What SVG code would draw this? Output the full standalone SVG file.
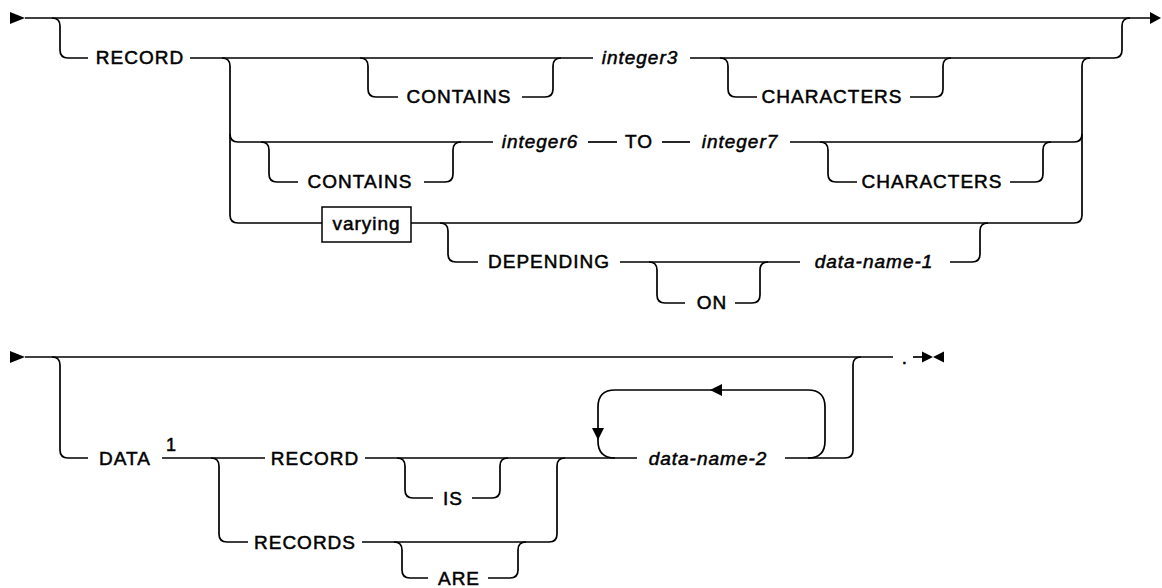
<svg xmlns="http://www.w3.org/2000/svg" width="1162" height="588" viewBox="0 0 1162 588">
<style>
.ln{fill:none;stroke:#000;stroke-width:1.7}
.ah{fill:#000;stroke:none}
.kw,.var,.sup{font-family:"Liberation Sans",Arial,sans-serif;font-size:19px;fill:#000;stroke:#000;stroke-width:0.5;text-anchor:middle;letter-spacing:1px}
.var{font-style:italic}
.sup{font-size:18px;letter-spacing:0}
.box{fill:#fff;stroke:#000;stroke-width:1.5}
</style>
<g id="connectors">
<path class="ln" d="M25 18 H1150"/>
<path class="ln" d="M52 18 Q60 18 60 26 V50 Q60 58 68 58 H88"/>
<path class="ln" d="M190 58 H593"/>
<path class="ln" d="M690 58 H1114 Q1122 58 1122 50 V26 Q1122 18 1130 18"/>
<path class="ln" d="M360 58 Q368 58 368 66 V89 Q368 97 376 97 H398"/>
<path class="ln" d="M522 97 H545 Q553 97 553 89 V66 Q553 58 561 58"/>
<path class="ln" d="M720 58 Q728 58 728 66 V89 Q728 97 736 97 H757"/>
<path class="ln" d="M910 97 H935 Q943 97 943 89 V66 Q943 58 951 58"/>
<path class="ln" d="M222 58 Q230 58 230 66 V215 Q230 223 238 223 H322"/>
<path class="ln" d="M230 134 Q230 142 238 142 H493"/>
<path class="ln" d="M261 142 Q269 142 269 150 V174 Q269 182 277 182 H298"/>
<path class="ln" d="M424 182 H445 Q453 182 453 174 V150 Q453 142 461 142"/>
<path class="ln" d="M588 142 H617"/>
<path class="ln" d="M662 142 H690"/>
<path class="ln" d="M790 142 H1074 Q1082 142 1082 134"/>
<path class="ln" d="M820 142 Q828 142 828 150 V174 Q828 182 836 182 H857"/>
<path class="ln" d="M1010 182 H1035 Q1043 182 1043 174 V150 Q1043 142 1051 142"/>
<path class="ln" d="M1082 215 V66 Q1082 58 1090 58"/>
<path class="ln" d="M411 223 H1074 Q1082 223 1082 215"/>
<path class="ln" d="M440 223 Q448 223 448 231 V254 Q448 262 456 262 H478"/>
<path class="ln" d="M620 262 H800"/>
<path class="ln" d="M649 262 Q657 262 657 270 V295 Q657 303 665 303 H685"/>
<path class="ln" d="M735 303 H752 Q760 303 760 295 V270 Q760 262 768 262"/>
<path class="ln" d="M950 262 H972 Q980 262 980 254 V231 Q980 223 988 223"/>
<polygon class="ah" points="10,12 25,18 10,24"/>
<polygon class="ah" points="1150,12 1161,18 1150,24"/>

<path class="ln" d="M25 357 H893"/>
<path class="ln" d="M52 357 Q60 357 60 365 V450 Q60 458 68 458 H88"/>
<path class="ln" d="M162 458 H265"/>
<path class="ln" d="M211 458 Q219 458 219 466 V534 Q219 542 227 542 H248"/>
<path class="ln" d="M365 458 H637"/>
<path class="ln" d="M397 458 Q405 458 405 466 V490 Q405 498 413 498 H433"/>
<path class="ln" d="M472 498 H492 Q500 498 500 490 V466 Q500 458 508 458"/>
<path class="ln" d="M362 542 H549 Q557 542 557 534 V466 Q557 458 565 458"/>
<path class="ln" d="M394 542 Q402 542 402 550 V570 Q402 578 410 578 H428"/>
<path class="ln" d="M488 578 H510 Q518 578 518 570 V550 Q518 542 526 542"/>
<path class="ln" d="M615 458 Q598 458 598 441 V407 Q598 390 615 390 H808 Q825 390 825 407 V441 Q825 458 808 458"/>
<path class="ln" d="M785 458 H845 Q853 458 853 450 V365 Q853 357 861 357"/>
<path class="ln" d="M913 357 H922"/>
<polygon class="ah" points="10,351 25,357 10,363"/>
<polygon class="ah" points="592,428 604,428 598,440"/>
<polygon class="ah" points="722,384 722,396 710,390"/>
<polygon class="ah" points="922,351.5 933,357 922,362.5"/>
<polygon class="ah" points="944,351.5 933,357 944,362.5"/>
</g>
<g id="n-record"><text class="kw" x="140" y="64">RECORD</text></g>
<g id="n-contains1"><text class="kw" x="459" y="103">CONTAINS</text></g>
<g id="n-integer3"><text class="var" x="640" y="64">integer3</text></g>
<g id="n-characters1"><text class="kw" x="832" y="103">CHARACTERS</text></g>
<g id="n-contains2"><text class="kw" x="360" y="188">CONTAINS</text></g>
<g id="n-integer6"><text class="var" x="540" y="148">integer6</text></g>
<g id="n-to"><text class="kw" x="639" y="148">TO</text></g>
<g id="n-integer7"><text class="var" x="740" y="148">integer7</text></g>
<g id="n-characters2"><text class="kw" x="932" y="188">CHARACTERS</text></g>
<g id="n-varying"><rect class="box" x="322" y="207" width="89" height="35"/><text class="kw" x="366.5" y="230">varying</text></g>
<g id="n-depending"><text class="kw" x="549" y="268">DEPENDING</text></g>
<g id="n-on"><text class="kw" x="712" y="309">ON</text></g>
<g id="n-dataname1"><text class="var" x="874" y="268">data-name-1</text></g>
<g id="n-data"><text class="kw" x="125" y="465">DATA</text><text class="sup" x="171" y="451">1</text></g>
<g id="n-record2"><text class="kw" x="315" y="465">RECORD</text></g>
<g id="n-is"><text class="kw" x="453" y="505">IS</text></g>
<g id="n-records"><text class="kw" x="305" y="549">RECORDS</text></g>
<g id="n-are"><text class="kw" x="459" y="585">ARE</text></g>
<g id="n-dataname2"><text class="var" x="708" y="465">data-name-2</text></g>
<g id="n-period"><text class="kw" x="905" y="364">.</text></g>
</svg>
